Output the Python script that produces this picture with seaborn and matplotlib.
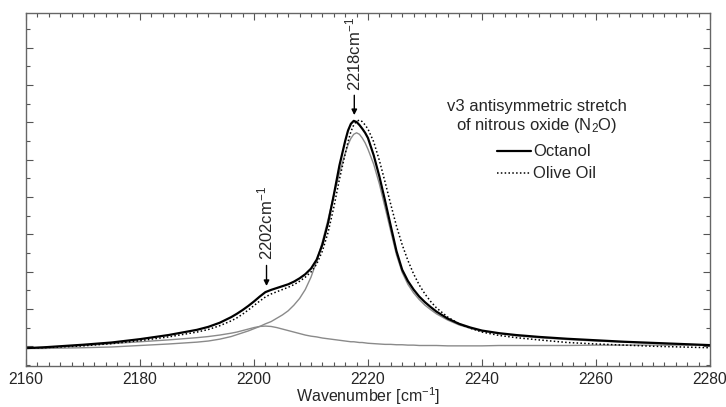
import numpy as np
import pandas as pd
import matplotlib
matplotlib.use("Agg")
import matplotlib.pyplot as plt
from matplotlib.ticker import MultipleLocator
from matplotlib.lines import Line2D
import seaborn as sns

# ==========================
# Data
# ==========================
wavenumber = [2160, 2163, 2166, 2170, 2175, 2180, 2185, 2190,
              2192, 2194, 2196, 2197, 2198, 2199, 2200, 2201,
              2202, 2203, 2204, 2205, 2206, 2207, 2208, 2209,
              2210, 2211, 2212, 2213, 2214, 2215, 2216, 2216.5,
              2217, 2217.5, 2218, 2218.5, 2219, 2219.5, 2220, 2221,
              2222, 2223, 2224, 2225, 2226, 2227, 2228, 2229,
              2230, 2231, 2232, 2234, 2236, 2238, 2240, 2243,
              2246, 2250, 2255, 2260, 2265, 2270, 2275, 2280]

octanol = [-0.05, -0.03, 0.00, 0.04, 0.10, 0.19, 0.30, 0.44,
           0.52, 0.63, 0.78, 0.87, 0.97, 1.08, 1.20, 1.33,
           1.45, 1.51, 1.56, 1.61, 1.66, 1.73, 1.82, 1.93,
           2.08, 2.32, 2.72, 3.30, 4.05, 4.85, 5.50, 5.78,
           5.96, 6.04, 6.01, 5.93, 5.83, 5.72, 5.58, 5.12,
           4.55, 3.90, 3.22, 2.55, 2.05, 1.75, 1.52, 1.33,
           1.18, 1.05, 0.93, 0.74, 0.60, 0.50, 0.42, 0.35,
           0.30, 0.25, 0.20, 0.16, 0.12, 0.09, 0.06, 0.03]

olive_oil = [-0.05, -0.04, -0.02, 0.01, 0.07, 0.15, 0.25, 0.38,
             0.45, 0.55, 0.68, 0.76, 0.86, 0.97, 1.09, 1.21,
             1.32, 1.40, 1.46, 1.52, 1.58, 1.65, 1.74, 1.85,
             1.99, 2.20, 2.55, 3.05, 3.72, 4.48, 5.15, 5.48,
             5.75, 5.93, 6.03, 6.06, 6.02, 5.93, 5.82, 5.48,
             4.98, 4.40, 3.80, 3.22, 2.72, 2.30, 1.94, 1.64,
             1.40, 1.20, 1.03, 0.78, 0.60, 0.48, 0.38, 0.29,
             0.23, 0.17, 0.10, 0.06, 0.03, 0.00, -0.02, -0.04]

fit_main = [-0.06, -0.06, -0.05, -0.04, -0.02, 0.02, 0.06, 0.11,
            0.14, 0.19, 0.26, 0.31, 0.36, 0.41, 0.47, 0.53,
            0.60, 0.66, 0.75, 0.84, 0.95, 1.10, 1.28, 1.52,
            1.85, 2.28, 2.80, 3.40, 4.05, 4.65, 5.17, 5.40,
            5.57, 5.68, 5.72, 5.68, 5.58, 5.45, 5.28, 4.88,
            4.35, 3.72, 3.08, 2.45, 1.98, 1.66, 1.43, 1.25,
            1.10, 0.98, 0.87, 0.70, 0.57, 0.48, 0.41, 0.34,
            0.28, 0.23, 0.18, 0.14, 0.11, 0.08, 0.05, 0.03]

fit_shoulder = [-0.05, -0.03, -0.01, 0.02, 0.07, 0.12, 0.17, 0.23,
                0.26, 0.30, 0.35, 0.38, 0.42, 0.46, 0.50, 0.53,
                0.54, 0.53, 0.50, 0.46, 0.42, 0.38, 0.34, 0.30,
                0.27, 0.25, 0.22, 0.20, 0.18, 0.16, 0.14, 0.13,
                0.12, 0.12, 0.11, 0.10, 0.10, 0.09, 0.08, 0.07,
                0.06, 0.05, 0.05, 0.04, 0.04, 0.03, 0.03, 0.02,
                0.02, 0.02, 0.02, 0.01, 0.01, 0.01, 0.01, 0.02,
                0.02, 0.02, 0.02, 0.03, 0.03, 0.03, 0.03, 0.03]

df = pd.DataFrame({
    "Wavenumber": wavenumber,
    "Octanol": octanol,
    "Olive Oil": olive_oil,
    "Fit main": fit_main,
    "Fit shoulder": fit_shoulder,
})

# ==========================
# Style
# ==========================
sns.set_style("ticks")
plt.rcParams["font.family"] = ["Liberation Sans", "DejaVu Sans"]
plt.rcParams["mathtext.default"] = "regular"
plt.rcParams["font.size"] = 12

fig = plt.figure(figsize=(7.26, 4.07), dpi=100)
ax = fig.add_axes([0.0358, 0.1007, 0.9421, 0.8673])

grey = "#8a8a8a"
dots = (0, (1, 1.5))
sns.lineplot(data=df, x="Wavenumber", y="Fit main", ax=ax, color=grey, linewidth=1.0)
sns.lineplot(data=df, x="Wavenumber", y="Fit shoulder", ax=ax, color=grey, linewidth=1.0)
sns.lineplot(data=df, x="Wavenumber", y="Olive Oil", ax=ax, color="black",
             linewidth=1.1, linestyle=dots)
sns.lineplot(data=df, x="Wavenumber", y="Octanol", ax=ax, color="black", linewidth=1.6)

ax.set_xlim(2160, 2280)
ax.set_ylim(-0.53, 8.93)
ax.xaxis.set_major_locator(MultipleLocator(20))
ax.xaxis.set_minor_locator(MultipleLocator(2))
ax.yaxis.set_major_locator(MultipleLocator(1))
ax.yaxis.set_minor_locator(MultipleLocator(0.5))
ax.tick_params(which="both", direction="in", top=True, right=True,
               labelleft=False, color="#555555", width=0.8)
ax.tick_params(which="major", length=5)
ax.tick_params(which="minor", length=3)
ax.tick_params(axis="x", labelsize=11.3, pad=4)
for s in ax.spines.values():
    s.set_color("#666666")
    s.set_linewidth(1.0)

ax.set_xlabel("Wavenumber [cm$^{-1}$]", fontsize=11.5, labelpad=-1)
ax.set_ylabel("")

# ==========================
# Peak annotations
# ==========================
arrow = dict(arrowstyle="-|>", color="black", lw=1.0, mutation_scale=8)
ax.annotate("", xy=(2217.6, 6.12), xytext=(2217.6, 6.80), arrowprops=arrow)
ax.text(2217.4, 6.84, "2218cm$^{-1}$", rotation=90, ha="center", va="bottom", fontsize=12)
ax.annotate("", xy=(2202.2, 1.54), xytext=(2202.2, 2.24), arrowprops=arrow)
ax.text(2202.0, 2.30, "2202cm$^{-1}$", rotation=90, ha="center", va="bottom", fontsize=12)

# ==========================
# Legend block
# ==========================
ax.text(2249.6, 6.15, "v3 antisymmetric stretch\nof nitrous oxide (N$_2$O)",
        ha="center", va="center", fontsize=12, linespacing=1.15)
handles = [Line2D([], [], color="black", lw=1.6),
           Line2D([], [], color="black", lw=1.1, linestyle=dots)]
ax.legend(handles, ["Octanol", "Olive Oil"], frameon=False, fontsize=12,
          loc="upper left", bbox_to_anchor=(0.689, 0.628), handlelength=2.0,
          handletextpad=0.15, labelspacing=0.42, borderaxespad=0, borderpad=0)

fig.savefig("out.png", dpi=100)
plt.close(fig)
